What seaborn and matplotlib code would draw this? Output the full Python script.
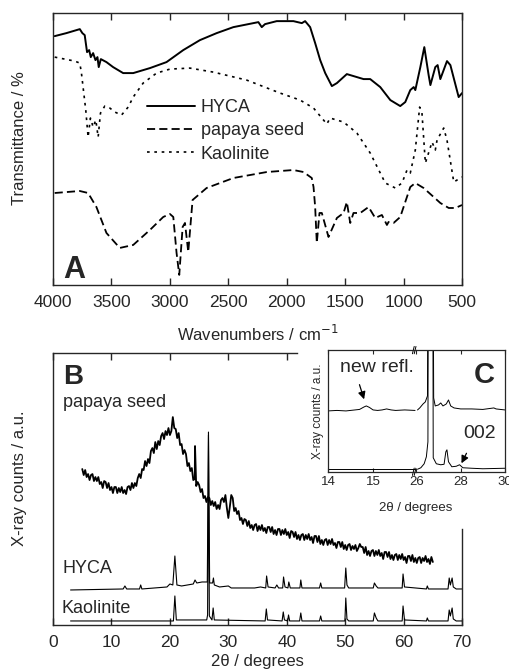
import numpy as np
import matplotlib
matplotlib.use("Agg")
import matplotlib.pyplot as plt
import seaborn as sns

sns.set_style("ticks")
plt.rcParams['font.family'] = ['Liberation Sans', 'DejaVu Sans']

# ---------------- panel A : FTIR (transmittance, arbitrary offset units) ----------------
hyca_wn = [3986, 3886, 3771, 3749, 3729, 3709, 3691, 3677, 3657, 3637, 3620, 3609, 3591, 3543,
           3486, 3400, 3314, 3171, 3029, 2886, 2743, 2600, 2457, 2286, 2243, 2214, 2186, 2086,
           1943, 1871, 1843, 1800, 1757, 1714, 1671, 1614, 1571, 1486, 1400, 1343, 1286, 1200,
           1114, 1029, 986, 943, 914, 900, 857, 823, 786, 771, 729, 709, 686, 629, 600, 529, 500]
hyca_t = [249, 252, 256, 252, 250, 233, 235, 228, 232, 225, 228, 218, 226, 223,
          218, 212, 212, 217, 223, 235, 245, 252, 258, 262, 263, 258, 261, 264,
          264, 262, 264, 258, 242, 225, 212, 199, 202, 211, 208, 206, 206, 198,
          185, 179, 183, 195, 198, 195, 218, 238, 210, 200, 218, 220, 206, 224, 220, 188, 192]

kaol_wn = [3986, 3814, 3771, 3757, 3743, 3720, 3700, 3680, 3657, 3634, 3614, 3594, 3557, 3514,
           3471, 3414, 3357, 3314, 3229, 3114, 3000, 2829, 2629, 2343, 2057, 1886, 1771, 1657,
           1629, 1514, 1400, 1286, 1157, 1071, 1014, 971, 943, 900, 863, 843, 814, 757, 729,
           714, 657, 629, 571, 500]
kaol_t = [228, 224, 222, 212, 198, 175, 148, 167, 158, 165, 148, 172, 179, 177,
          173, 170, 178, 188, 202, 212, 216, 217, 213, 205, 192, 185, 177, 161,
          167, 163, 152, 132, 102, 97, 102, 115, 112, 135, 178, 172, 122, 143, 135,
          145, 157, 145, 103, 108]

papaya_wn = [3986, 3771, 3700, 3629, 3543, 3429, 3314, 3171, 3057, 3000, 2971, 2943, 2920, 2891,
             2871, 2843, 2806, 2686, 2457, 2171, 1943, 1857, 1786, 1771, 1757, 1743, 1720, 1700,
             1643, 1571, 1514, 1486, 1457, 1429, 1371, 1300, 1243, 1186, 1143, 1129, 1086, 1029,
             943, 900, 829, 743, 686, 614, 557, 500]
papaya_t = [92, 94, 92, 78, 52, 37, 40, 55, 68, 71, 68, 32, 10, 58,
            62, 33, 85, 97, 107, 113, 115, 113, 107, 98, 78, 42, 72, 72,
            48, 67, 72, 83, 62, 72, 72, 78, 67, 70, 60, 63, 62, 68,
            98, 102, 97, 88, 82, 77, 77, 80]

# ---------------- panel B : XRD ----------------
# papaya seed pattern, read every 0.25 deg from 5 to 65 deg (one row per degree)
papaya_2t = np.arange(5.0, 65.01, 0.25)
papaya_cnt = [
    156, 150, 155, 148,   # 5
    151, 145, 150, 151,   # 6
    144, 148, 144, 148,   # 7
    141, 143, 137, 144,   # 8
    143, 137, 142, 135,   # 9
    138, 132, 138, 138,   # 10
    132, 137, 133, 138,   # 11
    132, 135, 131, 138,   # 12
    139, 135, 142, 137,   # 13
    142, 139, 147, 151,   # 14
    147, 156, 155, 164,   # 15
    159, 166, 162, 174,   # 16
    177, 172, 183, 176,   # 17
    184, 180, 189, 192,   # 18
    186, 194, 190, 197,   # 19
    190, 194, 208, 197,   # 20
    196, 187, 192, 180,   # 21
    181, 171, 175, 171,   # 22
    159, 162, 154, 157,   # 23
    145, 146, 139, 143,   # 24
    140, 133, 136, 127,   # 25
    129, 123, 128, 127,   # 26
    120, 124, 119, 123,   # 27
    116, 120, 116, 125,   # 28
    127, 123, 130, 117,   # 29
    107, 118, 130, 127,   # 30
    114, 117, 111, 114,   # 31
    105, 107, 101, 106,   # 32
    105, 99, 104, 97,     # 33
    100, 95, 100, 101,    # 34
    94, 99, 95, 100,      # 35
    94, 97, 92, 98,       # 36
    98, 93, 98, 91,       # 37
    95, 90, 96, 96,       # 38
    90, 95, 91, 96,       # 39
    90, 93, 87, 94,       # 40
    93, 88, 93, 86,       # 41
    90, 85, 90, 91,       # 42
    85, 90, 86, 91,       # 43
    85, 88, 82, 89,       # 44
    89, 83, 89, 81,       # 45
    85, 80, 85, 86,       # 46
    80, 85, 81, 86,       # 47
    80, 82, 77, 83,       # 48
    83, 78, 83, 76,       # 49
    80, 75, 80, 81,       # 50
    75, 79, 76, 80,       # 51
    74, 77, 81, 78,       # 52
    78, 72, 78, 70,       # 53
    74, 69, 74, 75,       # 54
    69, 74, 70, 75,       # 55
    69, 72, 66, 73,       # 56
    73, 68, 73, 66,       # 57
    70, 65, 70, 71,       # 58
    65, 70, 66, 71,       # 59
    65, 68, 62, 69,       # 60
    69, 64, 70, 63,       # 61
    67, 62, 67, 68,       # 62
    62, 67, 64, 69,       # 63
    63, 66, 61, 68,       # 64
    63,                   # 65
]
papaya_spike_2t = [24.3]
papaya_spike_cnt = [179]

hyca_2t = [3.0, 12.0, 12.3, 12.6, 14.8, 15.0, 15.2, 19.5, 20.0, 20.5, 20.85, 21.2, 22.0, 24.0,
           24.3, 24.6, 25.5, 26.4, 26.6, 26.8, 27.3, 27.45, 27.6, 28.5, 30.0, 30.5, 34.5, 35.5,
           36.4, 36.55, 36.8, 38.0, 38.3, 38.6, 39.3, 39.45, 39.7, 40.2, 40.35, 40.6, 42.25, 42.4,
           42.6, 45.6, 45.8, 46.0, 49.9, 50.1, 50.3, 50.6, 54.8, 55.0, 55.3, 55.6, 59.75, 59.9,
           60.15, 63.9, 64.05, 64.25, 67.6, 67.8, 68.0, 68.3, 68.5, 69.0, 70.0]
hyca_cnt = [35, 36, 39, 36, 36, 40, 36, 38, 41, 40, 69, 40, 39, 41,
            45, 42, 43, 43, 190, 42, 42, 47, 40, 38, 39, 37, 37, 38,
            37, 49, 38, 37, 40, 37, 37, 48, 38, 37, 43, 37, 37, 45,
            37, 37, 42, 37, 37, 57, 40, 37, 37, 42, 39, 37, 37, 51,
            38, 36, 39, 36, 36, 47, 40, 47, 38, 36, 36]

kaol_2t = [3.0, 20.6, 20.85, 21.1, 26.3, 26.45, 26.6, 26.75, 27.2, 27.4, 27.6, 36.3, 36.5, 36.7,
           39.2, 39.4, 39.6, 40.15, 40.3, 40.5, 42.2, 42.4, 42.6, 45.6, 45.8, 46.0, 49.95, 50.1,
           50.3, 50.6, 54.8, 55.0, 55.3, 55.6, 59.75, 59.9, 60.15, 63.9, 64.05, 64.25, 67.6, 67.8,
           68.0, 68.3, 68.5, 69.0, 70.0]
kaol_cnt = [4, 4, 29, 5, 5, 10, 193, 9, 5, 17, 5, 4, 16, 5,
            4, 13, 5, 4, 10, 4, 4, 12, 4, 4, 9, 4, 4, 27,
            6, 4, 4, 12, 7, 4, 4, 19, 5, 4, 7, 4, 4, 15,
            9, 17, 6, 4, 4]

# ---------------- panel C : inset, broken 2theta axis ----------------
c_hyca_lo_2t = [14.0, 14.2, 14.4, 14.6, 14.7, 14.8, 14.85, 14.92, 15.0, 15.1, 15.2, 15.3, 15.4, 15.5, 15.7, 15.93]
c_hyca_lo = [61, 61.5, 61, 62, 62.5, 65, 66, 64.5, 62, 61.5, 62, 63, 62, 61.5, 62, 61.5]
c_kaol_lo_2t = [14.0, 14.5, 15.0, 15.5, 15.93]
c_kaol_lo = [2.5, 2.5, 2.5, 2.5, 2.5]
c_hyca_hi_2t = [26.05, 26.15, 26.3, 26.4, 26.5, 26.57, 26.71, 26.78, 26.85, 27.0, 27.1, 27.2, 27.35,
                27.45, 27.55, 27.7, 28.0, 28.5, 29.0, 29.5, 29.6, 30.0]
c_hyca_hi = [62, 64, 68, 70, 76, 500, 500, 74, 66, 67, 69, 66, 68, 72, 66, 64, 63, 63, 62.5, 64, 63, 62]
c_kaol_hi_2t = [26.05, 26.2, 26.35, 26.45, 26.52, 26.57, 26.71, 26.76, 26.9, 27.1, 27.25, 27.33, 27.38,
                27.45, 27.6, 27.8, 27.95, 28.1, 28.5, 29.0, 30.0]
c_kaol_hi = [2.5, 4, 8, 15, 30, 500, 500, 14, 8, 7, 7.5, 20, 22, 10, 5, 5.5, 7, 4, 3.5, 3, 3.5]

fig = plt.figure(figsize=(5.1, 6.72), dpi=100)
axA = fig.add_axes([0.104, 0.576, 0.802, 0.404])
axB = fig.add_axes([0.104, 0.070, 0.802, 0.405])
axCl = fig.add_axes([0.643, 0.298, 0.1735, 0.181], zorder=3)
axCr = fig.add_axes([0.8165, 0.298, 0.1735, 0.181], zorder=3)


def line(ax, x, y, lw=1.3, dashes=None, label=None):
    sns.lineplot(x=list(x), y=list(y), ax=ax, color='black', lw=lw, sort=False,
                 estimator=None, label=label, legend=False)
    ln = ax.lines[-1]
    if dashes is not None:
        ln.set_dashes(dashes)
    return ln


# panel A
line(axA, hyca_wn, hyca_t, lw=1.4, label='HYCA')
line(axA, papaya_wn, papaya_t, lw=1.3, dashes=(4.5, 2.3), label='papaya seed')
line(axA, kaol_wn, kaol_t, lw=1.2, dashes=(1.6, 2.8), label='Kaolinite')
axA.set_xlim(4000, 500)
axA.set_ylim(0, 271.7)
axA.set_xticks(np.arange(4000, 499, -500))
axA.set_yticks([])
axA.set_xlabel('Wavenumbers / cm$^{-1}$', fontsize=12)
axA.set_ylabel('Transmittance / %', fontsize=12)
axA.xaxis.set_label_coords(0.5, -0.142)
axA.yaxis.set_label_coords(-0.064, 0.542)
axA.text(0.024, 0.026, 'A', transform=axA.transAxes, fontsize=22, fontweight='bold', va='baseline')
axA.legend(loc='center left', bbox_to_anchor=(0.229, 0.568), frameon=False, fontsize=13,
           handlelength=2.7, handletextpad=0.3, labelspacing=0.35, borderpad=0, borderaxespad=0)

# panel B
ps_x = np.concatenate([papaya_2t, papaya_spike_2t])
ps_y = np.concatenate([papaya_cnt, papaya_spike_cnt])
order = np.argsort(ps_x)
line(axB, ps_x[order], ps_y[order], lw=1.3)
line(axB, hyca_2t, hyca_cnt, lw=0.8)
line(axB, kaol_2t, kaol_cnt, lw=0.8)
axB.set_xlim(0, 70)
axB.set_ylim(0, 272.3)
axB.set_xticks(np.arange(0, 71, 10))
axB.set_yticks([])
axB.set_xlabel('2θ / degrees', fontsize=12)
axB.set_ylabel('X-ray counts / a.u.', fontsize=12)
axB.xaxis.set_label_coords(0.5, -0.105)
axB.yaxis.set_label_coords(-0.064, 0.540)
axB.spines['top'].set_bounds(0, 41.7)
axB.spines['right'].set_bounds(0, 96)
axB.text(0.024, 0.886, 'B', transform=axB.transAxes, fontsize=20, fontweight='bold', va='baseline')
axB.text(0.024, 0.80, 'papaya seed', transform=axB.transAxes, fontsize=13, va='baseline')
axB.text(0.024, 0.192, 'HYCA', transform=axB.transAxes, fontsize=13, va='baseline')
axB.text(0.021, 0.045, 'Kaolinite', transform=axB.transAxes, fontsize=13, va='baseline')

for ax in (axA, axB):
    ax.tick_params(axis='x', direction='in', top=True, bottom=True, length=5, width=1,
                   labelsize=12.5, pad=7)
    for s in ax.spines.values():
        s.set_linewidth(1.0)
        s.set_visible(True)

for t in axB.xaxis.get_major_ticks():
    if t.get_loc() > 42:
        t.tick2line.set_visible(False)

# panel C inset
inset_font = ['Liberation Sans Narrow', 'Liberation Sans']
line(axCl, c_hyca_lo_2t, c_hyca_lo, lw=0.7)
line(axCl, c_kaol_lo_2t, c_kaol_lo, lw=0.7)
line(axCr, c_hyca_hi_2t, c_hyca_hi, lw=0.7)
line(axCr, c_kaol_hi_2t, c_kaol_hi, lw=0.7)
axCl.set_xlim(14, 15.96)
axCr.set_xlim(26, 30)
axCl.set_xticks([14, 15])
axCr.set_xticks([26, 28, 30])
for ax in (axCl, axCr):
    ax.set_facecolor('white')
    ax.set_ylim(0, 122)
    ax.set_yticks([])
    ax.tick_params(axis='x', direction='in', top=True, bottom=True, length=3, width=0.8,
                   labelsize=9.5, pad=3)
    for lab in ax.get_xticklabels():
        lab.set_family(inset_font)
    for s in ax.spines.values():
        s.set_linewidth(0.9)
axCl.spines['right'].set_visible(False)
axCr.spines['left'].set_visible(False)
axCl.set_ylabel('X-ray counts / a.u.', fontsize=8.5, family=inset_font, labelpad=3)
fig.text(0.815, 0.244, '2θ / degrees', ha='center', va='center', fontsize=9.5, family=inset_font)

axCl.annotate('', xy=(14.82, 70), xytext=(14.68, 90),
              arrowprops=dict(arrowstyle='-|>', color='black', lw=0.9, mutation_scale=11))
axCl.text(14.26, 100, 'new refl.', fontsize=14, va='baseline')
axCr.annotate('', xy=(27.98, 6), xytext=(28.32, 21),
              arrowprops=dict(arrowstyle='-|>', color='black', lw=0.9, mutation_scale=11))
axCr.text(28.85, 34, '002', fontsize=14, va='baseline', ha='center')
axCr.text(29.05, 89, 'C', fontsize=21, fontweight='bold', va='baseline', ha='center')

# break marks
kw = dict(transform=axCl.transAxes, color='black', clip_on=False, lw=0.7)
for y0 in (0.0, 1.0):
    axCl.plot([0.955, 0.975], [y0 - 0.03, y0 + 0.03], **kw)
    axCl.plot([0.975, 0.995], [y0 - 0.03, y0 + 0.03], **kw)

fig.savefig('out.png', dpi=100)
